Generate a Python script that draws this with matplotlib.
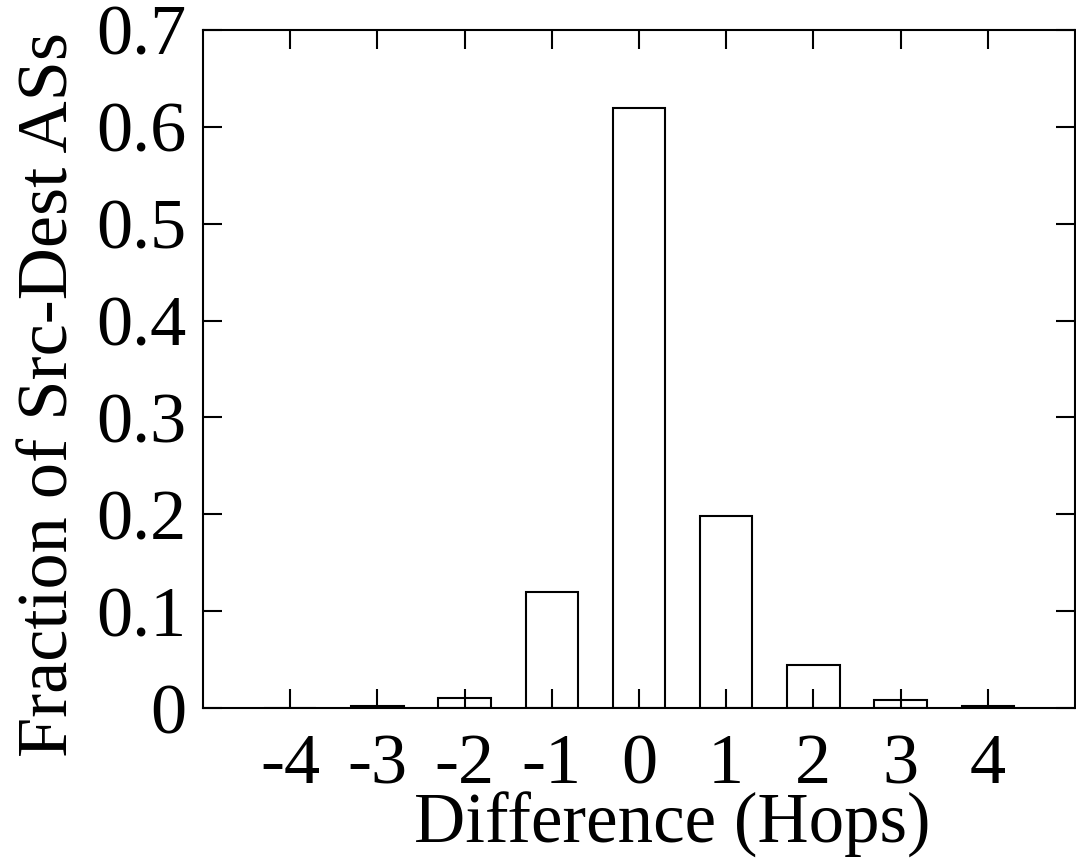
import matplotlib
matplotlib.use('Agg')
import matplotlib.pyplot as plt

hops = [-4, -3, -2, -1, 0, 1, 2, 3, 4]
fraction = [0.0, 0.002, 0.0105, 0.12, 0.619, 0.198, 0.044, 0.008, 0.002]
yticks = [0, 0.1, 0.2, 0.3, 0.4, 0.5, 0.6, 0.7]
ytick_labels = ['0', '0.1', '0.2', '0.3', '0.4', '0.5', '0.6', '0.7']

plt.rcParams['font.family'] = ['Liberation Serif', 'DejaVu Serif']
plt.rcParams['font.size'] = 52

fig = plt.figure(figsize=(10.76, 8.61), dpi=100)
ax = fig.add_axes([0.1887, 0.1777, 0.8103, 0.7875])
ax.bar(hops, fraction, width=0.6, facecolor='white', edgecolor='black', linewidth=1.5)

ax.set_xlim(-5, 5)
ax.set_ylim(0, 0.7)
ax.set_xticks(hops)
ax.set_xticklabels([str(h) for h in hops])
ax.set_yticks(yticks)
ax.set_yticklabels(ytick_labels)
ax.tick_params(direction='in', length=14, width=1.5, top=True, right=True, pad=12)
ax.tick_params(axis='x', pad=18)
for s in ax.spines.values():
    s.set_linewidth(1.5)

ax.set_xlabel('Difference (Hops)', fontsize=51)
ax.xaxis.set_label_coords(0.538, -0.124, transform=ax.transAxes)
ax.xaxis.label.set_va('top')
ax.set_ylabel('Fraction of Src-Dest ASs', labelpad=10)
ax.yaxis.label.set_y(0.462)

fig.savefig('out.png', dpi=100)
